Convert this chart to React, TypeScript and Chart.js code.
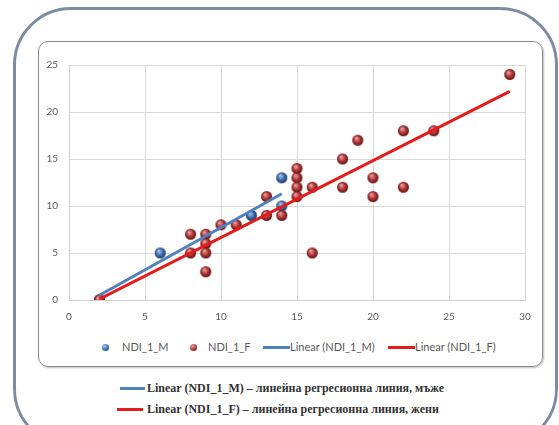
import React, { useEffect, useRef } from "react";
import { Chart, registerables } from "chart.js";
Chart.register(...registerables);

const maleX = [2, 6, 12, 14, 14];
const maleY = [0, 5, 9, 10, 13];
const femaleX = [2, 8, 8, 9, 9, 9, 9, 10, 11, 13, 13, 14, 15, 15, 15, 15, 16, 16, 18, 18, 19, 20, 20, 22, 22, 24, 29];
const femaleY = [0, 7, 5, 7, 6, 5, 3, 8, 8, 11, 9, 9, 14, 13, 12, 11, 12, 5, 15, 12, 17, 13, 11, 18, 12, 18, 24];
const maleTrendX = [2, 14];
const maleTrendY = [0.5, 11.3];
const femaleTrendX = [2, 29];
const femaleTrendY = [0.1, 22.2];
const xTicks = [0, 5, 10, 15, 20, 25, 30];
const yTicks = [0, 5, 10, 15, 20, 25];
const legendLabels = ["NDI_1_M", "NDI_1_F", "Linear (NDI_1_M)", "Linear (NDI_1_F)"];
const noteLabels = [
  "Linear (NDI_1_M) – линейна регресионна линия, мъже",
  "Linear (NDI_1_F) – линейна регресионна линия, жени",
];

const BLUE = "#4f81bd";
const RED = "#e31b1b";

function sphere(base: string, dark: string, light: string, r: number) {
  const size = Math.ceil(r * 2) + 2;
  const c = document.createElement("canvas");
  c.width = size;
  c.height = size;
  const g = c.getContext("2d")!;
  const cx = size / 2;
  const cy = size / 2;
  const grad = g.createRadialGradient(cx - r * 0.3, cy - r * 0.4, r * 0.1, cx, cy, r);
  grad.addColorStop(0, light);
  grad.addColorStop(0.55, base);
  grad.addColorStop(1, dark);
  g.fillStyle = grad;
  g.beginPath();
  g.arc(cx, cy, r, 0, Math.PI * 2);
  g.fill();
  return c;
}

function zip(xs: number[], ys: number[]) {
  return xs.map((x, i) => ({ x, y: ys[i] }));
}

export default function App() {
  const ref = useRef<HTMLCanvasElement>(null);
  useEffect(() => {
    const blueBall = sphere("#3d6fb0", "#1b3560", "#a9c6ec", 5.5);
    const redBall = sphere("#b13636", "#5e1010", "#e7a0a0", 5.5);
    const tickFont = { family: "Lato", size: 10 };
    const chart = new Chart(ref.current!, {
      type: "scatter",
      data: {
        datasets: [
          {
            label: legendLabels[3],
            type: "line",
            data: zip(femaleTrendX, femaleTrendY),
            borderColor: RED,
            borderWidth: 3,
            pointRadius: 0,
            fill: false,
            order: 1,
          } as any,
          {
            label: legendLabels[2],
            type: "line",
            data: zip(maleTrendX, maleTrendY),
            borderColor: BLUE,
            borderWidth: 3,
            pointRadius: 0,
            fill: false,
            order: 2,
          } as any,
          {
            label: legendLabels[1],
            data: zip(femaleX, femaleY),
            pointStyle: redBall,
            pointRadius: 5.5,
            order: 3,
          } as any,
          {
            label: legendLabels[0],
            data: zip(maleX, maleY),
            pointStyle: blueBall,
            pointRadius: 5.5,
            order: 4,
          } as any,
        ],
      },
      options: {
        animation: false,
        responsive: false,
        maintainAspectRatio: false,
        layout: { padding: { left: 0, top: 24, right: 18, bottom: 0 } },
        plugins: { legend: { display: false }, tooltip: { enabled: false } },
        scales: {
          x: {
            type: "linear",
            min: 0,
            max: 30,
            afterBuildTicks: (s: any) => {
              s.ticks = xTicks.map((v) => ({ value: v }));
            },
            afterFit: (s: any) => {
              s.height = 33;
            },
            grid: { color: "#d9d9d9", drawTicks: false },
            border: { color: "#d0d0d0" },
            ticks: { padding: 11, color: "#595959", font: tickFont },
          },
          y: {
            type: "linear",
            min: 0,
            max: 25,
            afterBuildTicks: (s: any) => {
              s.ticks = yTicks.map((v) => ({ value: v }));
            },
            afterFit: (s: any) => {
              s.width = 31;
            },
            grid: { color: "#d9d9d9", drawTicks: false },
            border: { color: "#d0d0d0" },
            ticks: { padding: 11, color: "#595959", font: tickFont },
          },
        },
      } as any,
    });
    return () => chart.destroy();
  }, []);

  const legendText: React.CSSProperties = {
    position: "absolute",
    fontFamily: "Lato",
    fontSize: 11,
    color: "#595959",
    lineHeight: "14px",
    top: 340,
    whiteSpace: "nowrap",
  };
  const dot = (left: number, bg: string): React.CSSProperties => ({
    position: "absolute",
    left: left - 3.5,
    top: 343.5,
    width: 7,
    height: 7,
    borderRadius: "50%",
    background: bg,
  });
  const bar = (left: number, width: number, top: number, color: string): React.CSSProperties => ({
    position: "absolute",
    left,
    top,
    width,
    height: 3,
    background: color,
  });
  const note: React.CSSProperties = {
    position: "absolute",
    left: 147,
    fontFamily: "'Liberation Serif', serif",
    fontWeight: "bold",
    fontSize: 12,
    color: "#333",
    whiteSpace: "nowrap",
    lineHeight: "14px",
  };

  return (
    <div
      style={{
        position: "fixed",
        left: 0,
        top: 0,
        width: 559,
        height: 425,
        overflow: "hidden",
        background: "#fff",
      }}
    >
      <div
        style={{
          position: "absolute",
          left: 13,
          top: 7,
          width: 545,
          height: 440,
          boxSizing: "border-box",
          border: "3px solid #7d8ca3",
          borderRadius: 58,
        }}
      />
      <div
        style={{
          position: "absolute",
          left: 38,
          top: 41,
          width: 505,
          height: 326,
          boxSizing: "border-box",
          border: "1.5px solid #8a8a8a",
          borderRadius: 10,
          boxShadow: "1px 1px 2px rgba(0,0,0,0.25)",
        }}
      />
      <canvas
        ref={ref}
        width={505}
        height={292}
        style={{ position: "absolute", left: 38, top: 41, width: 505, height: 292 }}
      />
      <span style={dot(105, "radial-gradient(circle at 35% 30%, #a9c6ec, #3d6fb0 55%, #1b3560)")} />
      <span style={{ ...legendText, left: 122 }}>{legendLabels[0]}</span>
      <span style={dot(193, "radial-gradient(circle at 35% 30%, #e7a0a0, #b13636 55%, #5e1010)")} />
      <span style={{ ...legendText, left: 208 }}>{legendLabels[1]}</span>
      <span style={bar(263, 27, 345.5, BLUE)} />
      <span style={{ ...legendText, left: 290 }}>{legendLabels[2]}</span>
      <span style={bar(388, 27, 345.5, RED)} />
      <span style={{ ...legendText, left: 415 }}>{legendLabels[3]}</span>

      <span style={bar(120, 25, 386.5, BLUE)} />
      <span style={{ ...note, top: 381 }}>{noteLabels[0]}</span>
      <span style={bar(117, 26, 407.5, RED)} />
      <span style={{ ...note, top: 402 }}>{noteLabels[1]}</span>
    </div>
  );
}
